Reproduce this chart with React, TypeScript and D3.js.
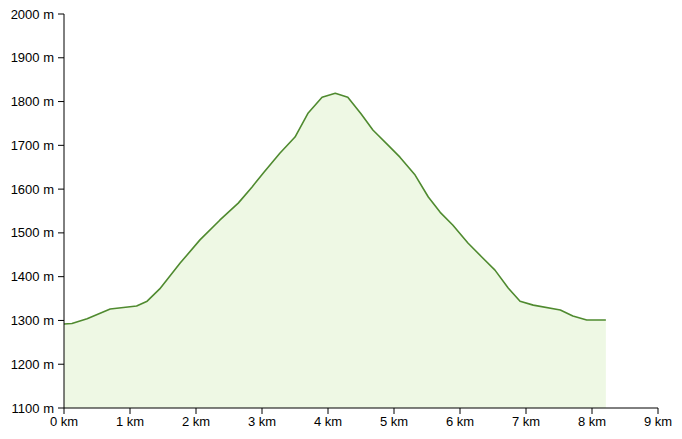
import React from "react";
import * as d3 from "d3";

const distanceKm = [0, 0.12, 0.35, 0.7, 1.1, 1.26, 1.45, 1.76, 2.06, 2.36, 2.64, 2.85, 3.02, 3.27, 3.5, 3.7, 3.91, 4.11, 4.3, 4.5, 4.68, 4.94, 5.09, 5.32, 5.52, 5.7, 5.89, 6.12, 6.33, 6.53, 6.73, 6.91, 7.11, 7.52, 7.71, 7.92, 8.21];
const elevationM = [1292, 1293, 1304, 1326, 1333, 1344, 1372, 1431, 1484, 1529, 1568, 1605, 1637, 1682, 1719, 1774, 1810, 1819, 1810, 1772, 1735, 1696, 1673, 1632, 1582, 1547, 1518, 1477, 1445, 1415, 1374, 1344, 1335, 1324, 1310, 1301, 1301];
const xTicks = [0, 1, 2, 3, 4, 5, 6, 7, 8, 9];
const yTicks = [1100, 1200, 1300, 1400, 1500, 1600, 1700, 1800, 1900, 2000];

const W = 682, H = 439;
const M = { left: 64, right: 24, top: 14, bottom: 31 };

export default function App() {
  const x = d3.scaleLinear().domain([0, 9]).range([M.left, W - M.right]);
  const y = d3.scaleLinear().domain([1100, 2000]).range([H - M.bottom, M.top]);
  const pts = distanceKm.map((d, i) => [d, elevationM[i]] as [number, number]);
  const area = d3.area<[number, number]>().x(d => x(d[0])).y0(y(1100)).y1(d => y(d[1]))(pts) || "";
  const line = d3.line<[number, number]>().x(d => x(d[0])).y(d => y(d[1]))(pts) || "";
  const font = "'Liberation Sans', Arial, sans-serif";
  return (
    <svg width={W} height={H} style={{ position: "absolute", left: 0, top: 0 }}>
      <path d={area} fill="#eef8e4" stroke="none" />
      <path d={line} fill="none" stroke="#4f8a2f" strokeWidth={1.6} strokeLinejoin="round" />
      <line x1={x(0)} x2={x(9)} y1={y(1100)} y2={y(1100)} stroke="#000" />
      <line x1={x(0)} x2={x(0)} y1={y(1100)} y2={y(2000)} stroke="#000" />
      {yTicks.map(t => (
        <g key={"y" + t}>
          <line x1={x(0) - 6} x2={x(0)} y1={y(t)} y2={y(t)} stroke="#000" />
          <text x={x(0) - 10} y={y(t)} dy="0.35em" textAnchor="end" fontSize={13} fontFamily={font} fill="#000">{t} m</text>
        </g>
      ))}
      {xTicks.map(t => (
        <g key={"x" + t}>
          <line x1={x(t)} x2={x(t)} y1={y(1100)} y2={y(1100) + 6} stroke="#000" />
          <text x={x(t)} y={y(1100) + 18} textAnchor="middle" fontSize={13} fontFamily={font} fill="#000">{t} km</text>
        </g>
      ))}
    </svg>
  );
}
